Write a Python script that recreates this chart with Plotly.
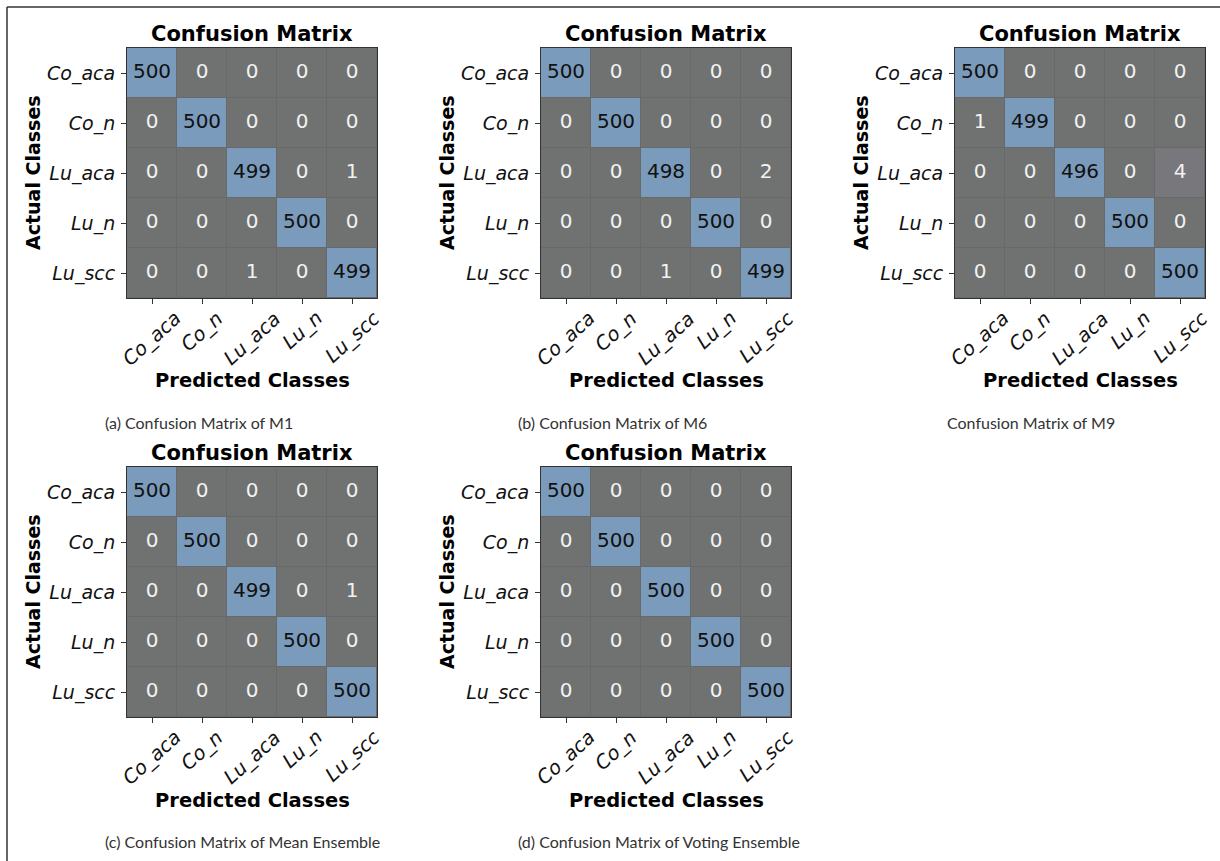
import plotly.graph_objects as go

W, H = 1220, 861

classes = ["Co_aca", "Co_n", "Lu_aca", "Lu_n", "Lu_scc"]

cm_m1 = [[500, 0, 0, 0, 0],
         [0, 500, 0, 0, 0],
         [0, 0, 499, 0, 1],
         [0, 0, 0, 500, 0],
         [0, 0, 1, 0, 499]]

cm_m6 = [[500, 0, 0, 0, 0],
         [0, 500, 0, 0, 0],
         [0, 0, 498, 0, 2],
         [0, 0, 0, 500, 0],
         [0, 0, 1, 0, 499]]

cm_m9 = [[500, 0, 0, 0, 0],
         [1, 499, 0, 0, 0],
         [0, 0, 496, 0, 4],
         [0, 0, 0, 500, 0],
         [0, 0, 0, 0, 500]]

cm_mean = [[500, 0, 0, 0, 0],
           [0, 500, 0, 0, 0],
           [0, 0, 499, 0, 1],
           [0, 0, 0, 500, 0],
           [0, 0, 0, 0, 500]]

cm_vote = [[500, 0, 0, 0, 0],
           [0, 500, 0, 0, 0],
           [0, 0, 500, 0, 0],
           [0, 0, 0, 500, 0],
           [0, 0, 0, 0, 500]]

captions = ["(a) Confusion Matrix of M1",
            "(b) Confusion Matrix of M6",
            "Confusion Matrix of M9",
            "(c) Confusion Matrix of Mean Ensemble",
            "(d) Confusion Matrix of Voting Ensemble"]

matrices = [cm_m1, cm_m6, cm_m9, cm_mean, cm_vote]

# pixel boxes of each heatmap (left, top) and caption left edge
panel_boxes = [(127, 48, 103), (541, 48, 516), (955, 48, 945),
               (127, 467, 103), (541, 467, 516)]
CELL_SPAN = 250

GREY = "#6f7271"
BLUE = "#7a9bbc"
colorscale = [[0.0, GREY], [0.005, GREY], [0.008, "#78777c"],
              [0.98, "#7a9abb"], [1.0, BLUE]]


def fx(px):
    return px / W


def fy(py):
    return 1 - py / H


fig = go.Figure()
annotations = []
DV = "DejaVu Sans"
n = len(classes)

for i, (cm, cap, (left, top, cap_x)) in enumerate(zip(matrices, captions, panel_boxes), start=1):
    xa = "x" if i == 1 else f"x{i}"
    ya = "y" if i == 1 else f"y{i}"
    right, bottom = left + CELL_SPAN, top + CELL_SPAN

    fig.add_trace(go.Heatmap(
        z=cm, x=classes, y=classes, xaxis=xa, yaxis=ya,
        zmin=0, zmax=500, colorscale=colorscale, showscale=False,
        xgap=1, ygap=1, hoverinfo="skip"))

    tx, ty, tt, tc = [], [], [], []
    for r, row in enumerate(cm):
        for c, v in enumerate(row):
            tx.append(classes[c])
            ty.append(classes[r])
            tt.append(str(v))
            tc.append("#111111" if v > 250 else "#f2f2f2")
    fig.add_trace(go.Scatter(
        x=tx, y=ty, text=tt, mode="text", xaxis=xa, yaxis=ya,
        textfont=dict(family=DV, size=20, color=tc),
        hoverinfo="skip", showlegend=False))

    axis_common = dict(showline=True, linecolor="#333333", linewidth=1, mirror=True,
                       ticks="outside", ticklen=5, tickcolor="#333333",
                       showgrid=False, zeroline=False, fixedrange=True)
    fig.layout[("xaxis" if i == 1 else f"xaxis{i}")] = dict(
        domain=[fx(left), fx(right)], anchor=ya, showticklabels=False,
        type="category", range=[-0.5, n - 0.5], **axis_common)
    fig.layout[("yaxis" if i == 1 else f"yaxis{i}")] = dict(
        domain=[fy(bottom), fy(top)], anchor=xa, range=[n - 0.5, -0.5],
        type="category", ticklabelstandoff=2,
        tickfont=dict(family=DV, size=19, color="#111111", style="italic"),
        **axis_common)

    cx = (left + right) / 2
    # rotated predicted-class labels
    for cls in classes:
        annotations.append(dict(
            x=cls, xref=xa, y=fy(bottom + 6), yref="paper",
            text=cls, textangle=-42, showarrow=False,
            xanchor="center", yanchor="top",
            font=dict(family=DV, size=19.5, color="#111111", style="italic")))
    annotations.append(dict(
        x=fx(cx), y=fy(top - 14), xref="paper", yref="paper",
        text="<b>Confusion Matrix</b>", showarrow=False,
        xanchor="center", yanchor="middle",
        font=dict(family=DV, size=21, color="#000000")))
    annotations.append(dict(
        x=fx(cx), y=fy(bottom + 83), xref="paper", yref="paper",
        text="<b>Predicted Classes</b>", showarrow=False,
        xanchor="center", yanchor="middle",
        font=dict(family=DV, size=19.5, color="#000000")))
    annotations.append(dict(
        x=fx(left - 94), y=fy((top + bottom) / 2), xref="paper", yref="paper",
        text="<b>Actual Classes</b>", showarrow=False, textangle=-90,
        xanchor="center", yanchor="middle",
        font=dict(family=DV, size=19, color="#000000")))
    annotations.append(dict(
        x=fx(cap_x), y=fy(bottom + 124), xref="paper", yref="paper",
        text=cap, showarrow=False, xanchor="left", yanchor="middle",
        font=dict(family="Lato", size=16, color="#333333")))

# frame lines along the top and left edge
shapes = [
    dict(type="line", xref="paper", yref="paper", x0=fx(7), x1=1, y0=fy(7), y1=fy(7),
         line=dict(color="#333333", width=1.5)),
    dict(type="line", xref="paper", yref="paper", x0=fx(7), x1=fx(7), y0=fy(7), y1=0,
         line=dict(color="#333333", width=1.5)),
]

fig.update_layout(
    width=W, height=H, margin=dict(l=0, r=0, t=0, b=0),
    paper_bgcolor="white", plot_bgcolor="#686a69",
    showlegend=False, annotations=annotations, shapes=shapes)

fig.write_html("out.html")
